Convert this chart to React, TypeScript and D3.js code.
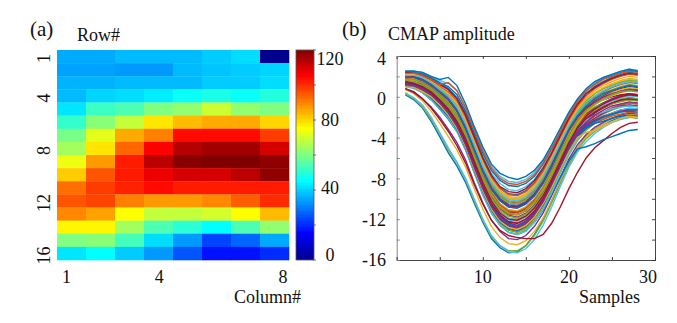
import React, { useEffect, useRef } from 'react'
import * as d3 from 'd3'

const rowLabels = [1, 4, 8, 12, 16]
const columnLabels = [1, 4, 8]
const colorTicks = [0, 40, 80, 120]
const colorMinorTicks = [20, 60, 100]
const ampTicks = [4, 0, -4, -8, -12, -16]
const sampleTicks = [10, 20, 30]

// grid values, 16 rows x 8 columns
const heat: number[][] = [
  [35, 35, 37, 37, 37, 39, 41, 0],
  [34, 34, 33, 33, 37, 38, 39, 40],
  [36, 36, 37, 37, 37, 39, 39, 41],
  [37, 40, 41, 43, 46, 48, 46, 49],
  [42, 52, 54, 60, 62, 69, 62, 60],
  [51, 61, 68, 78, 83, 85, 85, 80],
  [59, 72, 85, 90, 104, 104, 104, 98],
  [64, 78, 93, 105, 114, 116, 116, 110],
  [73, 87, 102, 113, 119, 121, 121, 118],
  [81, 95, 102, 107, 110, 110, 113, 118],
  [92, 98, 101, 104, 102, 102, 102, 102],
  [95, 97, 90, 87, 87, 89, 94, 100],
  [89, 86, 75, 68, 68, 70, 75, 83],
  [76, 76, 64, 54, 50, 45, 54, 62],
  [60, 61, 53, 41, 33, 23, 27, 35],
  [42, 45, 39, 33, 25, 17, 17, 20],
]

const lineColors = ['#0072bd', '#d95319', '#edb120', '#7e2f8e', '#77ac30', '#4dbeee', '#a2142f']

// traces, samples 1..28
const traces: number[][] = [
  [0.2, -0.3, -1.1, -2.4, -3.9, -5.5, -6.8, -8.4, -10.4, -12.3, -13.9, -14.8, -15.3, -15.2, -14.6, -13.5, -12, -10.2, -8.3, -6.5, -5, -3.9, -3.2, -2.7, -2.3, -2, -1.8, -1.9],
  [2.1, 2.1, 1.8, 1.3, 0.7, 0, -1, -2.7, -4.8, -6.9, -8.6, -9.7, -10.3, -10.4, -10, -9.2, -8, -6.4, -4.7, -3, -1.6, -0.6, 0, 0.5, 0.9, 1.2, 1.4, 1.3],
  [0.7, 0.3, -0.4, -1.4, -2.6, -3.9, -5.2, -6.9, -9, -11, -12.7, -13.8, -14.4, -14.5, -14.1, -13.2, -11.9, -10.2, -8.3, -6.5, -5, -3.9, -3.2, -2.7, -2.2, -1.9, -1.7, -1.8],
  [0.8, 0.5, -0.2, -1, -2, -3.2, -4.5, -6.2, -8.4, -10.4, -12.1, -13.2, -13.9, -14, -13.6, -12.7, -11.4, -9.7, -7.9, -6.1, -4.7, -3.7, -3, -2.5, -2.1, -1.8, -1.6, -1.7],
  [0.3, -0.2, -1, -2.2, -3.6, -5.2, -6.5, -8.1, -10.2, -12.1, -13.7, -14.6, -15.1, -15.1, -14.6, -13.6, -12.2, -10.4, -8.5, -6.7, -5.2, -4.1, -3.4, -2.9, -2.5, -2.2, -2, -2.1],
  [0.4, -0.1, -0.8, -2, -3.5, -5, -6.4, -8, -10, -12, -13.6, -14.6, -15.2, -15.3, -14.9, -14, -12.6, -10.8, -8.8, -6.9, -5.4, -4.4, -3.6, -3, -2.5, -2.2, -2, -2],
  [0.8, 0.4, -0.2, -1.1, -2.2, -3.4, -4.8, -6.5, -8.6, -10.5, -12.1, -13.1, -13.6, -13.8, -13.9, -13.9, -13.5, -12.4, -10.8, -9, -7.4, -6, -5, -4.3, -3.6, -3, -2.6, -2.5],
  [1.2, 0.9, 0.4, -0.3, -1.2, -2.2, -3.4, -5.2, -7.4, -9.6, -11.4, -12.6, -13.3, -13.5, -13.1, -12.3, -11.1, -9.5, -7.9, -6.3, -5.1, -4.9, -4.6, -4.2, -3.9, -3.6, -3.3, -3.2],
  [1.1, 1, 0.6, 0, -0.8, -1.8, -3.1, -4.9, -7.1, -9.3, -11.1, -12.3, -13, -13.2, -12.8, -11.9, -10.7, -9, -7.1, -5.3, -3.8, -2.8, -2.1, -1.6, -1.1, -0.8, -0.6, -0.7],
  [1.5, 1.4, 1.1, 0.6, -0.1, -1, -2.2, -4, -6.2, -8.3, -10, -11.2, -11.9, -12, -11.6, -10.8, -9.5, -7.9, -6.1, -4.4, -2.9, -1.9, -1.2, -0.7, -0.3, 0, 0.2, 0.1],
  [1.9, 1.9, 1.6, 1.1, 0.4, -0.4, -1.5, -3.2, -5.3, -7.4, -9.1, -10.2, -10.8, -10.9, -10.5, -9.7, -8.5, -6.9, -5.2, -3.5, -2.2, -1.2, -0.6, -0.1, 0.3, 0.6, 0.8, 0.7],
  [1, 0.9, 0.5, -0.1, -0.9, -1.9, -3.2, -5, -7.3, -9.5, -11.3, -12.6, -13.3, -13.5, -13.1, -12.2, -11, -9.3, -7.4, -5.6, -4, -2.9, -2.2, -1.7, -1.3, -1, -0.8, -0.9],
  [2.4, 2.4, 2.3, 1.9, 1.3, 0.8, -0.1, -1.6, -3.7, -5.8, -7.5, -8.5, -9.1, -9.2, -8.8, -8.1, -6.9, -5.4, -3.7, -2, -0.6, 0.4, 1, 1.5, 1.8, 2.1, 2.3, 2.2],
  [1.3, 1.2, 0.8, 0.2, -0.5, -1.5, -2.8, -4.6, -6.8, -9, -10.8, -12, -12.7, -12.9, -12.5, -11.7, -10.4, -8.8, -7, -5.2, -3.8, -2.9, -2.3, -1.9, -1.6, -1.3, -1.2, -1.2],
  [1.8, 1.7, 1.4, 0.9, 0.2, -0.7, -1.9, -3.7, -5.8, -7.9, -9.6, -10.7, -11.3, -11.4, -11, -10.2, -9, -7.4, -5.6, -3.9, -2.5, -1.6, -1, -0.6, -0.2, 0.1, 0.2, 0.1],
  [1.2, 1.1, 0.7, 0.2, -0.6, -1.6, -2.8, -4.5, -6.6, -8.7, -10.5, -11.7, -12.4, -12.6, -12.2, -11.4, -10.2, -8.6, -6.8, -5.1, -3.6, -2.6, -1.9, -1.5, -1.1, -0.8, -0.6, -0.7],
  [2.2, 2.2, 2, 1.5, 0.9, 0.2, -0.8, -2.5, -4.5, -6.6, -8.3, -9.4, -10, -10.1, -9.7, -8.9, -7.7, -6.1, -4.4, -2.7, -1.3, -0.3, 0.3, 0.8, 1.2, 1.5, 1.7, 1.6],
  [1.6, 1.5, 1.2, 0.7, 0, -0.9, -2.1, -3.8, -6, -8.1, -9.8, -11, -11.6, -11.8, -11.4, -10.6, -9.4, -7.8, -6, -4.2, -2.7, -1.7, -1.1, -0.6, -0.2, 0.1, 0.3, 0.2],
  [1.1, 0.9, 0.4, -0.2, -1.1, -2.1, -3.3, -5.1, -7.4, -9.5, -11.2, -12.4, -13.1, -13.3, -12.9, -12.1, -10.9, -9.2, -7.4, -5.7, -4.3, -3.3, -2.6, -2.2, -1.8, -1.5, -1.3, -1.4],
  [2, 2, 1.7, 1.2, 0.6, -0.1, -1.2, -2.9, -5, -7.1, -8.8, -9.9, -10.5, -10.6, -10.2, -9.4, -8.2, -6.6, -4.8, -3.1, -1.8, -0.8, -0.3, 0.2, 0.6, 0.9, 1.1, 1],
  [1.4, 1.3, 1, 0.4, -0.3, -1.2, -2.5, -4.3, -6.5, -8.7, -10.4, -11.6, -12.2, -12.4, -12, -11.2, -9.9, -8.3, -6.5, -4.8, -3.3, -2.3, -1.6, -1.1, -0.7, -0.4, -0.2, -0.3],
  [2.4, 2.4, 2.2, 1.8, 1.3, 0.8, -0.1, -1.7, -3.8, -5.9, -7.7, -8.9, -9.5, -9.6, -9.2, -8.4, -7.2, -5.6, -3.9, -2.2, -0.8, 0.3, 1, 1.5, 1.9, 2.2, 2.4, 2.3],
  [1.7, 1.6, 1.3, 0.8, 0.1, -0.8, -2, -3.7, -5.9, -8, -9.7, -10.9, -11.5, -11.6, -11.2, -10.4, -9.2, -7.6, -5.8, -4.1, -2.7, -1.8, -1.3, -0.9, -0.6, -0.4, -0.3, -0.4],
  [2.3, 2.3, 2.1, 1.6, 1, 0.4, -0.6, -2.2, -4.3, -6.4, -8.1, -9.2, -9.8, -9.9, -9.5, -8.7, -7.5, -5.9, -4.2, -2.5, -1.1, -0.1, 0.6, 1.1, 1.5, 1.8, 2, 1.9],
  [1.3, 1.2, 0.9, 0.3, -0.5, -1.4, -2.7, -4.6, -6.8, -8.9, -10.7, -11.8, -12.5, -12.7, -12.3, -11.4, -10.2, -8.5, -6.6, -4.8, -3.3, -2.2, -1.5, -1, -0.6, -0.3, -0.1, -0.2],
  [1.9, 1.8, 1.5, 1, 0.3, -0.5, -1.6, -3.4, -5.5, -7.6, -9.3, -10.5, -11.1, -11.2, -10.8, -10, -8.8, -7.2, -5.4, -3.7, -2.4, -1.5, -1, -0.7, -0.4, -0.2, -0.1, -0.2],
  [1, 0.8, 0.4, -0.3, -1.1, -2.1, -3.4, -5.2, -7.4, -9.6, -11.4, -12.6, -13.3, -13.5, -13.2, -12.3, -11, -9.4, -7.5, -5.7, -4.2, -3.1, -2.5, -2, -1.6, -1.3, -1.1, -1.2],
  [1.6, 1.6, 1.3, 0.8, 0.2, -0.6, -1.8, -3.5, -5.7, -7.8, -9.5, -10.6, -11.3, -11.4, -11, -10.1, -8.9, -7.2, -5.4, -3.6, -2.1, -1.1, -0.4, 0.1, 0.5, 0.8, 1, 0.9],
  [2.5, 2.5, 2.3, 1.9, 1.4, 1, 0.2, -1.4, -3.5, -5.5, -7.2, -8.2, -8.7, -8.8, -8.5, -7.8, -6.6, -5.1, -3.5, -1.8, -0.4, 0.6, 1.3, 1.8, 2.1, 2.4, 2.6, 2.5],
  [1.2, 1, 0.6, 0, -0.8, -1.7, -3, -4.8, -7, -9.2, -11, -12.1, -12.8, -12.9, -12.5, -11.7, -10.5, -8.8, -7, -5.3, -4, -3.1, -2.6, -2.2, -1.9, -1.7, -1.5, -1.6],
  [1.8, 1.8, 1.5, 1, 0.3, -0.5, -1.7, -3.4, -5.6, -7.7, -9.4, -10.5, -11.1, -11.2, -10.8, -10, -8.8, -7.2, -5.4, -3.6, -2.2, -1.2, -0.5, 0, 0.4, 0.7, 0.9, 0.8],
  [1.4, 1.2, 0.8, 0.3, -0.5, -1.5, -2.7, -4.5, -6.7, -8.8, -10.6, -11.8, -12.4, -12.6, -12.2, -11.4, -10.1, -8.5, -6.7, -5, -3.7, -2.9, -2.4, -2, -1.7, -1.4, -1.3, -1.3],
  [2.2, 2.1, 1.9, 1.4, 0.8, 0.1, -0.9, -2.6, -4.7, -6.8, -8.5, -9.6, -10.2, -10.3, -9.9, -9.1, -7.9, -6.3, -4.5, -2.8, -1.4, -0.4, 0.3, 0.8, 1.1, 1.4, 1.6, 1.5],
  [1.5, 1.4, 1, 0.5, -0.2, -1.1, -2.4, -4.2, -6.4, -8.5, -10.3, -11.5, -12.1, -12.2, -11.8, -11, -9.7, -8.1, -6.3, -4.5, -3, -2, -1.3, -0.8, -0.4, -0.1, 0.1, 0],
  [2, 1.9, 1.6, 1.1, 0.5, -0.3, -1.4, -3.1, -5.2, -7.3, -9, -10.1, -10.7, -10.8, -10.4, -9.6, -8.4, -6.8, -5, -3.3, -2, -1.1, -0.6, -0.3, 0, 0.2, 0.3, 0.2],
  [1.1, 0.9, 0.5, -0.1, -1, -1.9, -3.2, -5, -7.2, -9.3, -11.1, -12.3, -12.9, -13.1, -12.7, -11.8, -10.6, -8.9, -7.1, -5.4, -3.9, -3, -2.4, -2, -1.7, -1.5, -1.4, -1.5],
  [2.3, 2.2, 2, 1.6, 1, 0.5, -0.4, -2, -4.1, -6.2, -7.9, -9, -9.6, -9.7, -9.3, -8.5, -7.3, -5.7, -4, -2.3, -0.9, 0.1, 0.8, 1.3, 1.7, 2, 2.2, 2.1],
  [1.7, 1.6, 1.4, 0.9, 0.2, -0.7, -1.9, -3.6, -5.7, -7.8, -9.6, -10.7, -11.4, -11.5, -11.1, -10.3, -9.1, -7.5, -5.7, -4, -2.6, -1.5, -0.8, -0.3, 0.1, 0.4, 0.6, 0.5],
  [1.3, 1.1, 0.7, 0.1, -0.7, -1.6, -2.9, -4.7, -6.9, -9.1, -10.9, -12.1, -12.7, -12.9, -12.5, -11.6, -10.4, -8.7, -6.9, -5.1, -3.7, -2.7, -2.1, -1.6, -1.2, -0.9, -0.8, -0.9],
  [2.1, 2, 1.8, 1.3, 0.7, -0.1, -1.1, -2.8, -4.9, -7, -8.7, -9.8, -10.4, -10.5, -10.1, -9.3, -8.1, -6.5, -4.8, -3.1, -1.7, -0.7, -0.1, 0.4, 0.7, 1, 1.2, 1.1],
  [1.5, 1.4, 1.1, 0.6, -0.2, -1, -2.3, -4, -6.2, -8.4, -10.1, -11.3, -11.9, -12.1, -11.7, -10.9, -9.6, -8, -6.2, -4.5, -3.1, -2.3, -1.8, -1.5, -1.2, -1, -0.9, -1],
  [2.4, 2.3, 2.1, 1.7, 1.2, 0.7, -0.2, -1.8, -3.9, -6, -7.7, -8.8, -9.3, -9.4, -9, -8.2, -7, -5.5, -3.8, -2.1, -0.7, 0.3, 0.9, 1.4, 1.8, 2.1, 2.3, 2.2],
  [1.2, 1.1, 0.8, 0.2, -0.6, -1.5, -2.8, -4.6, -6.7, -8.9, -10.7, -11.9, -12.5, -12.7, -12.3, -11.5, -10.3, -8.7, -6.9, -5.2, -3.9, -3.1, -2.6, -2.4, -2.1, -1.9, -1.8, -1.9],
  [1.8, 1.7, 1.4, 0.9, 0.2, -0.6, -1.8, -3.5, -5.6, -7.7, -9.4, -10.6, -11.2, -11.3, -10.9, -10.1, -8.9, -7.3, -5.5, -3.8, -2.3, -1.3, -0.7, -0.2, 0.2, 0.5, 0.7, 0.6],
  [1, 0.9, 0.5, 0, -0.8, -1.8, -3.1, -4.9, -7.1, -9.2, -11, -12.2, -12.8, -13, -12.6, -11.8, -10.5, -8.9, -7.1, -5.4, -4, -3.5, -3.3, -2.9, -2.5, -2.1, -1.9, -2],
  [2, 2, 1.7, 1.2, 0.5, -0.2, -1.3, -3, -5.1, -7.2, -8.9, -10, -10.6, -10.7, -10.3, -9.5, -8.3, -6.7, -4.9, -3.2, -1.9, -1, -0.5, 0, 0.3, 0.5, 0.7, 0.6],
  [1.6, 1.5, 1.1, 0.6, -0.1, -1, -2.2, -4, -6.1, -8.2, -10, -11.1, -11.7, -11.9, -11.5, -10.7, -9.5, -7.9, -6.1, -4.3, -2.8, -1.9, -1.3, -1, -0.7, -0.5, -0.3, -0.4],
  [2.5, 2.5, 2.4, 2, 1.6, 1.3, 0.6, -1, -3.1, -5.1, -6.8, -7.8, -8.3, -8.4, -8.1, -7.4, -6.3, -4.8, -3.2, -1.6, -0.3, 0.7, 1.4, 1.9, 2.2, 2.5, 2.7, 2.6],
  [1.4, 1.3, 0.9, 0.4, -0.4, -1.3, -2.6, -4.4, -6.6, -8.7, -10.5, -11.6, -12.3, -12.4, -12, -11.2, -10, -8.3, -6.5, -4.6, -3, -1.9, -1.2, -0.7, -0.3, 0, 0.2, 0.1],
  [1.9, 1.9, 1.6, 1.1, 0.4, -0.3, -1.4, -3.1, -5.2, -7.3, -9, -10.2, -10.8, -10.9, -10.5, -9.7, -8.5, -6.9, -5.1, -3.3, -1.9, -0.9, -0.2, 0.3, 0.6, 0.9, 1.1, 1],
  [2.3, 2.3, 2.1, 1.7, 1.2, 1.4, 0.6, -1.1, -3.2, -5.3, -7, -8, -8.5, -8.6, -8.3, -7.6, -6.5, -5, -3.4, -1.8, -0.4, 0.6, 1.2, 1.7, 2, 2.3, 2.5, 2.4],
  [2.2, 2.2, 1.9, 1.5, 0.9, 0.3, -0.7, -2.4, -4.4, -6.5, -8.2, -9.3, -9.9, -10, -9.6, -8.8, -7.6, -6, -4.3, -2.6, -1.2, -0.2, 0.4, 0.9, 1.3, 1.6, 1.8, 1.7],
  [1.3, 1.1, 0.8, 0.2, -0.6, -1.6, -2.9, -4.7, -6.9, -9, -10.8, -12, -12.6, -12.8, -12.4, -11.5, -10.3, -8.6, -6.8, -5, -3.5, -2.5, -1.8, -1.3, -0.9, -0.7, -0.5, -0.6],
  [1.7, 1.7, 1.3, 0.8, 0.1, -0.7, -1.9, -3.6, -5.8, -7.9, -9.6, -10.8, -11.4, -11.5, -11.1, -10.3, -9, -7.4, -5.6, -3.9, -2.4, -1.4, -0.7, -0.2, 0.2, 0.5, 0.6, 0.5],
  [2.1, 2.1, 1.9, 1.4, 0.8, 0.1, -1, -2.6, -4.7, -6.8, -8.4, -9.5, -10.1, -10.2, -9.8, -9, -7.8, -6.2, -4.5, -2.8, -1.5, -0.5, 0.1, 0.6, 1, 1.3, 1.5, 1.4],
  [1.5, 1.3, 1, 0.5, -0.3, -1.2, -2.4, -4.1, -6.3, -8.4, -10.2, -11.4, -12, -12.1, -11.7, -10.9, -9.7, -8.1, -6.3, -4.5, -3.1, -2.1, -1.5, -1, -0.6, -0.3, -0.2, -0.3],
  [2.5, 2.5, 2.4, 2, 1.7, 1.9, 1.1, -0.7, -2.9, -4.9, -6.6, -7.5, -7.9, -8.1, -7.8, -7.2, -6.2, -4.7, -3.1, -1.5, -0.2, 0.8, 1.5, 1.9, 2.2, 2.5, 2.7, 2.5],
]

const W = 677
const H = 323

const App = () => {
  const svgRef = useRef<SVGSVGElement>(null)

  useEffect(() => {
    const svg = d3.select(svgRef.current)
    svg.selectAll('*').remove()
    const font = '"Liberation Serif", serif'
    svg.attr('font-family', font).attr('fill', '#111')

    const label = (x: number, y: number, s: string, size = 18, anchor = 'start') =>
      svg.append('text').attr('x', x).attr('y', y).attr('font-size', size)
        .attr('text-anchor', anchor).text(s)

    // jet colour map
    const jet = d3.scaleLinear<string>()
      .domain([0, 15, 45, 75, 105, 120])
      .range(['#00008f', '#0000ff', '#00ffff', '#ffff00', '#ff0000', '#800000'])
      .clamp(true)

    // panel a
    const xCell = d3.scaleBand<number>().domain(d3.range(8)).range([57, 289])
    const yCell = d3.scaleBand<number>().domain(d3.range(16)).range([50, 260])
    heat.forEach((row, r) => {
      svg.append('g').selectAll('rect').data(row).join('rect')
        .attr('x', (d, c) => xCell(c)!)
        .attr('y', yCell(r)!)
        .attr('width', xCell.bandwidth() + 0.3)
        .attr('height', yCell.bandwidth() + 0.3)
        .attr('fill', d => jet(d))
    })

    rowLabels.forEach(r => {
      const y = yCell(r - 1)! + yCell.bandwidth() / 2 + 2
      svg.append('text').attr('transform', `translate(50,${y}) rotate(-90)`)
        .attr('font-size', 18).attr('text-anchor', 'middle').text(r)
    })
    const colLabelX = d3.scaleLinear().domain([1, 8]).range([66.5, 283])
    columnLabels.forEach(c => label(colLabelX(c), 283, String(c), 18, 'middle'))

    label(30, 36, '(a)', 21)
    label(77, 41, 'Row#')
    label(234, 303, 'Column#')

    // colour bar
    const yBar = d3.scaleLinear().domain([0, 120]).range([260, 50])
    svg.append('g').selectAll('rect').data(d3.range(0, 120, 1)).join('rect')
      .attr('x', 296).attr('width', 18)
      .attr('y', d => Math.floor(yBar(d + 1)))
      .attr('height', d => Math.ceil(yBar(d)) - Math.floor(yBar(d + 1)))
      .attr('fill', d => jet(d))
    svg.append('rect').attr('x', 296).attr('y', 50).attr('width', 18).attr('height', 210)
      .attr('fill', 'none').attr('stroke', '#555').attr('stroke-width', 0.8)
    colorTicks.concat(colorMinorTicks).forEach(t => {
      svg.append('line').attr('x1', 313).attr('x2', 316)
        .attr('y1', yBar(t)).attr('y2', yBar(t)).attr('stroke', '#555').attr('stroke-width', 0.8)
    })
    const yBarLabel = d3.scaleLinear().domain([0, 40, 80, 120]).range([261, 194, 126, 65])
    colorTicks.forEach(t => label(330, yBarLabel(t), String(t), 18, 'middle'))

    // panel b
    const x = d3.scaleLinear().domain([0, 30]).range([396.7, 655])
    const y = d3.scaleLinear().domain([-16, 4]).range([260, 56])
    const line = d3.line<number>().x((d, i) => x(i + 1)).y(d => y(d))

    svg.append('g').attr('fill', 'none').selectAll('path').data(traces).join('path')
      .attr('d', d => line(d))
      .attr('stroke', (d, i) => lineColors[i % lineColors.length])
      .attr('stroke-width', 1.4)

    const yMinor = d3.range(-16, 5, 2)
    const xMinor = d3.range(0, 31, 5)
    const axBottom = svg.append('g').attr('transform', 'translate(0,260)')
      .call(d3.axisTop(x).tickValues(xMinor).tickSize(3).tickFormat(() => ''))
    const axTop = svg.append('g').attr('transform', 'translate(0,56)')
      .call(d3.axisBottom(x).tickValues(xMinor).tickSize(3).tickFormat(() => ''))
    const axLeft = svg.append('g').attr('transform', 'translate(396.7,0)')
      .call(d3.axisRight(y).tickValues(yMinor).tickSize(3).tickFormat(() => ''))
    const axRight = svg.append('g').attr('transform', 'translate(655,0)')
      .call(d3.axisLeft(y).tickValues(yMinor).tickSize(3).tickFormat(() => ''))
    ;[axBottom, axTop, axRight].forEach(a => a.selectAll('path,line').attr('stroke', '#333').attr('stroke-width', 0.9))
    axLeft.selectAll('path,line').attr('stroke', '#777').attr('stroke-width', 0.9)

    const yTickLabel = d3.scaleLinear().domain([-16, 4]).range([266, 65])
    ampTicks.forEach(t => label(386, yTickLabel(t), String(t), 18, 'end'))
    sampleTicks.forEach(t => label(t === 30 ? 648 : x(t), 283, String(t), 18, 'middle'))

    label(342, 36, '(b)', 21)
    label(388, 40, 'CMAP amplitude')
    label(579, 303, 'Samples')
  }, [])

  return <svg ref={svgRef} width={W} height={H} style={{ position: 'absolute', left: 0, top: 0, background: '#fff' }} />
}

export default App
